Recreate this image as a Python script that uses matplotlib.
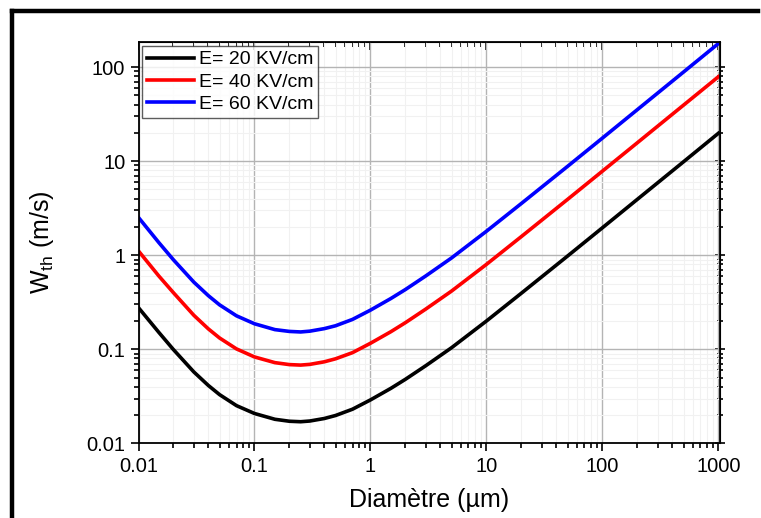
import matplotlib
matplotlib.use("Agg")
from matplotlib import pyplot as plt
from matplotlib.ticker import LogLocator, FixedLocator, FixedFormatter, NullFormatter

plt.rcParams['font.family'] = ['Liberation Sans', 'DejaVu Sans']

# diamètre (µm)
diam = [0.01, 0.015, 0.02, 0.03, 0.04, 0.05, 0.07, 0.1, 0.15, 0.2, 0.25, 0.3, 0.4,
        0.5, 0.7, 1, 1.5, 2, 3, 5, 10, 20, 50, 100, 200, 500, 1000]

# W_th (m/s)
w_20 = [0.277, 0.151, 0.0994, 0.0575, 0.0413, 0.033, 0.0252, 0.0208, 0.01805, 0.0172, 0.017, 0.0173, 0.0184,
        0.0198, 0.0231, 0.029, 0.0385, 0.048, 0.067, 0.104, 0.2, 0.395, 0.98, 1.96, 3.93, 9.85, 19.8]
w_40 = [1.11, 0.60, 0.40, 0.23, 0.165, 0.132, 0.101, 0.083, 0.0722, 0.0688, 0.068, 0.0692, 0.0737,
        0.0793, 0.0922, 0.116, 0.154, 0.192, 0.268, 0.416, 0.8, 1.58, 3.92, 7.84, 15.7, 39.4, 79]
w_60 = [2.52, 1.36, 0.895, 0.518, 0.372, 0.297, 0.227, 0.187, 0.162, 0.155, 0.153, 0.156, 0.166,
        0.178, 0.208, 0.261, 0.347, 0.432, 0.603, 0.936, 1.8, 3.55, 8.8, 17.6, 35.3, 88.6, 178]

labels = ["E= 20 KV/cm", "E= 40 KV/cm", "E= 60 KV/cm"]
colors = ["black", "#ff0000", "#0000ff"]

xticks = [0.01, 0.1, 1, 10, 100, 1000]
xtick_labels = ["0.01", "0.1", "1", "10", "100", "1000"]
yticks = [0.01, 0.1, 1, 10, 100]
ytick_labels = ["0.01", "0.1", "1", "10", "100"]

fig = plt.figure(figsize=(7.61, 5.18), dpi=100)
ax = fig.add_axes([0.182, 0.144, 0.764, 0.775])

for w, lab, c in zip([w_20, w_40, w_60], labels, colors):
    ax.plot(diam, w, color=c, linewidth=2.6, label=lab)

ax.set_xscale("log")
ax.set_yscale("log")
ax.set_xlim(0.01, 1030)
ax.set_ylim(0.01, 185)

ax.xaxis.set_major_locator(FixedLocator(xticks))
ax.xaxis.set_major_formatter(FixedFormatter(xtick_labels))
ax.yaxis.set_major_locator(FixedLocator(yticks))
ax.yaxis.set_major_formatter(FixedFormatter(ytick_labels))
ax.xaxis.set_minor_locator(LogLocator(base=10, subs=range(2, 10), numticks=20))
ax.yaxis.set_minor_locator(LogLocator(base=10, subs=range(2, 10), numticks=20))
ax.xaxis.set_minor_formatter(NullFormatter())
ax.yaxis.set_minor_formatter(NullFormatter())

ax.tick_params(which="both", direction="out", top=False, right=False, labelsize=14.5, width=1.2)
ax.tick_params(which="major", length=6)
ax.tick_params(which="minor", length=3.5)

# ticks vers l'intérieur en haut et à droite
ax2 = ax.secondary_xaxis("top")
ax2.set_xscale("log")
ax2.xaxis.set_major_locator(FixedLocator(xticks))
ax2.xaxis.set_minor_locator(LogLocator(base=10, subs=range(2, 10), numticks=20))
ax2.tick_params(which="both", direction="in", labeltop=False, width=1.2)
ax2.tick_params(which="major", length=6)
ax2.tick_params(which="minor", length=3.5)
ax3 = ax.secondary_yaxis("right")
ax3.yaxis.set_major_locator(FixedLocator(yticks))
ax3.yaxis.set_minor_locator(LogLocator(base=10, subs=range(2, 10), numticks=20))
ax3.tick_params(which="both", direction="inout", labelright=False, width=1.2)
ax3.tick_params(which="major", length=7)
ax3.tick_params(which="minor", length=5)

for s in ax.spines.values():
    s.set_linewidth(1.3)

ax.grid(which="major", color="#b4b4b4", linewidth=1.0)
ax.grid(which="minor", color="#f1f1f1", linewidth=0.8)
ax.set_axisbelow(True)

ax.set_xlabel("Diamètre (µm)", fontsize=18, labelpad=9)
ax.set_ylabel(r"W$_{\mathregular{th}}$ (m/s)", fontsize=18, labelpad=22)

leg = ax.legend(loc="upper left", fontsize=14, handlelength=2.4, frameon=True, fancybox=False,
                borderaxespad=0.2, borderpad=0.25, labelspacing=0.25, handletextpad=0.25)
leg.get_frame().set_edgecolor("#333333")
leg.get_frame().set_linewidth(1.0)

# cadre noir autour de la figure
fig.add_artist(plt.Line2D([12/761, 758/761], [1 - 11/518, 1 - 11/518], color="black", linewidth=3.2))
fig.add_artist(plt.Line2D([12/761, 12/761], [1 - 11/518, 0], color="black", linewidth=3.2))

fig.savefig("out.png", dpi=100)
